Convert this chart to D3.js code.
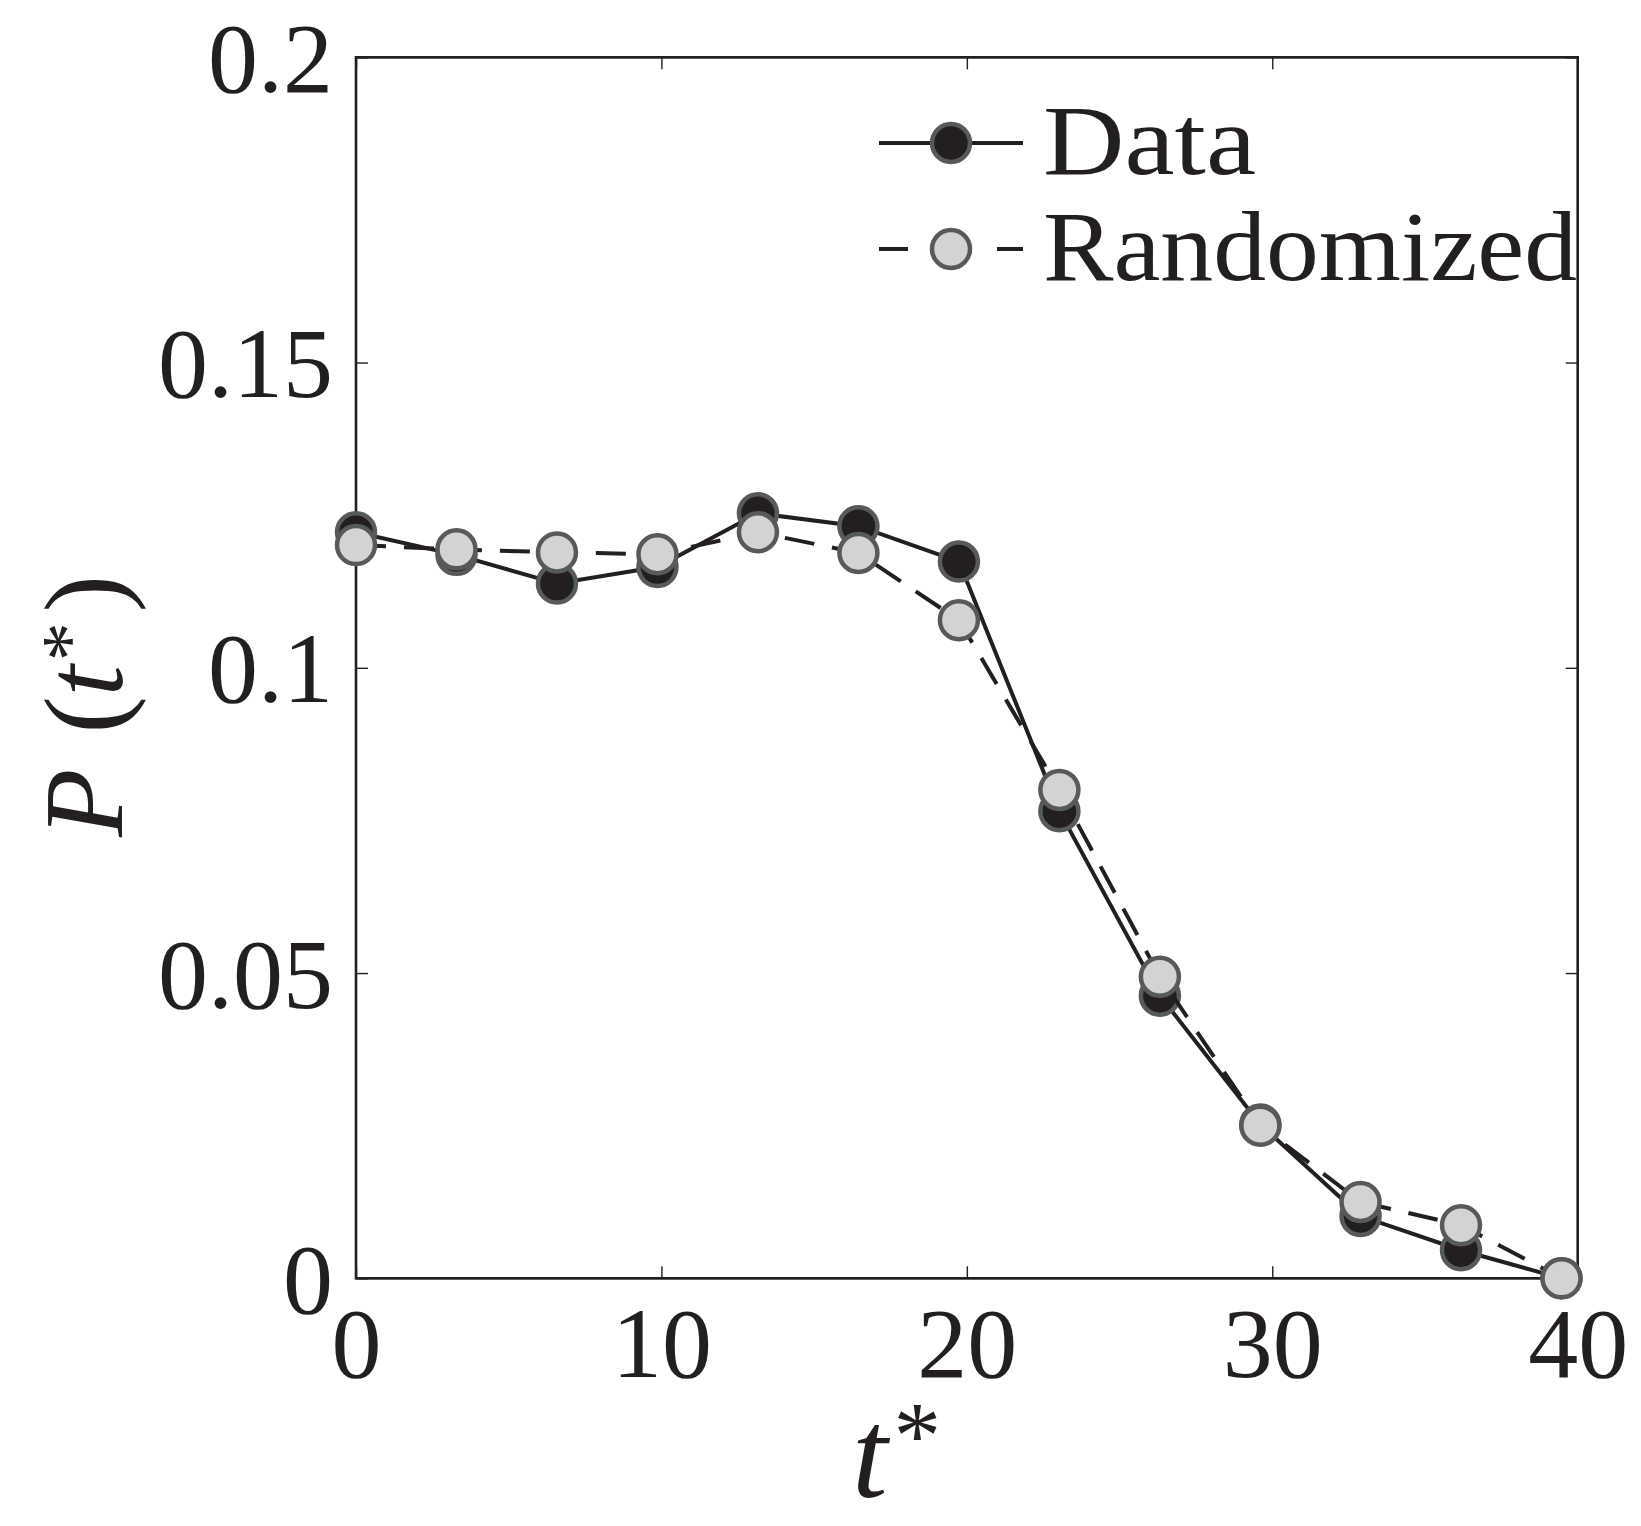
<!DOCTYPE html>
<html>
<head>
<meta charset="utf-8">
<script src="https://cdn.jsdelivr.net/npm/d3@7"></script>
<style>
  body { margin: 0; background: #fff; }
  svg text { font-family: "Liberation Serif", "DejaVu Serif", serif; fill: #231f20; }
  .axis path, .axis line { stroke: #231f20; }
</style>
</head>
<body>
<div id="chart"></div>
<script>

// chart values
const tVals = [0, 3.29, 6.58, 9.87, 13.16, 16.45, 19.74, 23.03, 26.32, 29.61, 32.89, 36.18, 39.47];
const dataP = [0.1222, 0.1185, 0.1138, 0.1165, 0.1253, 0.1232, 0.1174, 0.0765, 0.0463, 0.0252, 0.0102, 0.0046, 0.0];
const randP = [0.1201, 0.1194, 0.1189, 0.1186, 0.1222, 0.1188, 0.1078, 0.0800, 0.0494, 0.0250, 0.0125, 0.0087, 0.0];
const xTicks = [0, 10, 20, 30, 40];
const yTicks = [0, 0.05, 0.1, 0.15, 0.2];
const yTickLabels = ["0", "0.05", "0.1", "0.15", "0.2"];
const seriesNames = ["Data", "Randomized"];

// Set dimensions and margins
const width = 1641;
const height = 1526;
const margin = {left: 356, right: 63.3, top: 57.3, bottom: 247.7};
const tickLen = 12;

const ink = "#231f20";
const edge = "#58595b";
const fills = ["#231f20", "#d1d3d4"];
const lineW = 4;

const svg = d3.select("#chart")
  .append("svg")
  .attr("width", width)
  .attr("height", height)
  .attr("viewBox", [0, 0, width, height]);

// scales
const xScale = d3.scaleLinear()
  .domain([0, 40])
  .range([margin.left, width - margin.right]);

const yScale = d3.scaleLinear()
  .domain([0, 0.2])
  .range([height - margin.bottom, margin.top]);

/*
  Axes (ticks point inward, box on all sides)
*/

const yAxis = svg.append("g")
  .attr("class", "axis")
  .attr("transform", `translate(${margin.left},0)`)
  .call(d3.axisLeft(yScale)
    .tickValues(yTicks)
    .tickFormat((d, i) => yTickLabels[i])
    .tickSizeInner(-tickLen)
    .tickSizeOuter(0)
    .tickPadding(23));
yAxis.selectAll("text").attr("font-size", "100px").attr("dy", "0.34em");

const xAxis = svg.append("g")
  .attr("class", "axis")
  .attr("transform", `translate(0,${height - margin.bottom})`)
  .call(d3.axisBottom(xScale)
    .tickValues(xTicks)
    .tickFormat(d3.format("d"))
    .tickSizeInner(-tickLen)
    .tickSizeOuter(0)
    .tickPadding(28));
xAxis.selectAll("text").attr("font-size", "100px");

svg.append("g")
  .attr("class", "axis")
  .attr("transform", `translate(${width - margin.right},0)`)
  .call(d3.axisRight(yScale).tickValues(yTicks).tickFormat("").tickSizeInner(-tickLen).tickSizeOuter(0));

svg.append("g")
  .attr("class", "axis")
  .attr("transform", `translate(0,${margin.top})`)
  .call(d3.axisTop(xScale).tickValues(xTicks).tickFormat("").tickSizeInner(-tickLen).tickSizeOuter(0));

svg.selectAll(".axis line").attr("stroke-width", 1.4);
svg.selectAll(".axis path").attr("stroke", "none");

// the box
svg.append("rect")
  .attr("x", xScale(0))
  .attr("y", yScale(0.2))
  .attr("width", xScale(40) - xScale(0))
  .attr("height", yScale(0) - yScale(0.2))
  .attr("fill", "none")
  .attr("stroke", ink)
  .attr("stroke-width", 2.6);

/*
  Axis labels
*/

const xLab = svg.append("text")
  .attr("x", 852)
  .attr("y", 1497)
  .attr("font-size", "128px");
xLab.append("tspan").attr("font-style", "italic").text("t");
xLab.append("tspan").attr("font-size", "95px").attr("dx", 6).attr("dy", -29).text("*");

const yLab = svg.append("text")
  .attr("transform", "translate(122,837) rotate(-90)")
  .attr("font-size", "112px");
yLab.append("tspan").attr("font-style", "italic").text("P");
yLab.append("tspan").attr("dx", 35).text("(");
yLab.append("tspan").attr("font-style", "italic").text("t");
yLab.append("tspan").attr("font-size", "78px").attr("dx", 4).attr("dy", -27).text("*");
yLab.append("tspan").attr("dx", 10).attr("dy", 27).text(")");

/*
  Lines and markers
*/

const series = [
  {name: seriesNames[0], values: dataP, dash: null},
  {name: seriesNames[1], values: randP, dash: "30,18"}
];

const line = d3.line()
  .x((d, i) => xScale(tVals[i]))
  .y(d => yScale(d));

series.forEach((s, k) => {
  svg.append("path")
    .datum(s.values)
    .attr("d", line)
    .attr("fill", "none")
    .attr("stroke", ink)
    .attr("stroke-width", lineW)
    .attr("stroke-dasharray", s.dash);

  svg.append("g")
    .selectAll("circle")
    .data(s.values)
    .enter()
    .append("circle")
    .attr("cx", (d, i) => xScale(tVals[i]))
    .attr("cy", d => yScale(d))
    .attr("r", 19)
    .attr("fill", fills[k])
    .attr("stroke", edge)
    .attr("stroke-width", 4.5);
});

/*
  Legend
*/

const legendRows = [143, 249];
const legendBase = [174, 280];
const legendWidths = [213, 534];

series.forEach((s, k) => {
  const g = svg.append("g");
  if (s.dash) {
    g.append("line").attr("x1", 879).attr("x2", 908).attr("y1", legendRows[k]).attr("y2", legendRows[k])
      .attr("stroke", ink).attr("stroke-width", lineW);
    g.append("line").attr("x1", 997).attr("x2", 1023).attr("y1", legendRows[k]).attr("y2", legendRows[k])
      .attr("stroke", ink).attr("stroke-width", lineW);
  } else {
    g.append("line").attr("x1", 879).attr("x2", 1023).attr("y1", legendRows[k]).attr("y2", legendRows[k])
      .attr("stroke", ink).attr("stroke-width", lineW);
  }
  g.append("circle")
    .attr("cx", 951)
    .attr("cy", legendRows[k])
    .attr("r", 19)
    .attr("fill", fills[k])
    .attr("stroke", edge)
    .attr("stroke-width", 4.5);
  g.append("text")
    .attr("x", 1043)
    .attr("y", legendBase[k])
    .attr("font-size", "100px")
    .attr("textLength", legendWidths[k])
    .attr("lengthAdjust", "spacingAndGlyphs")
    .text(s.name);
});

</script>
</body>
</html>
